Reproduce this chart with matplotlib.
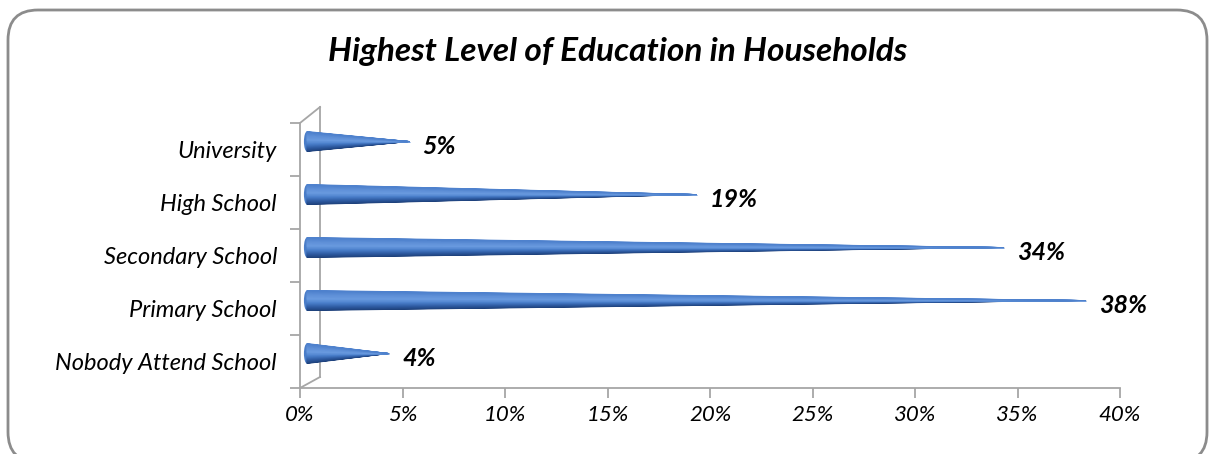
import numpy as np
import matplotlib
matplotlib.use("Agg")
import matplotlib.pyplot as plt
import matplotlib.transforms as mtransforms
from matplotlib.patches import FancyBboxPatch, Ellipse
from matplotlib.colors import LinearSegmentedColormap

categories = ["Nobody Attend School", "Primary School", "Secondary School", "High School", "University"]
values = [4, 38, 34, 19, 5]
value_labels = ["4%", "38%", "34%", "19%", "5%"]
xticks = [0, 5, 10, 15, 20, 25, 30, 35, 40]
xtick_labels = ["0%", "5%", "10%", "15%", "20%", "25%", "30%", "35%", "40%"]
title = "Highest Level of Education in Households"

plt.rcParams['font.family'] = ['Lato', 'DejaVu Sans']

W, H, DPI = 1214, 454, 100
fig = plt.figure(figsize=(W / DPI, H / DPI), dpi=DPI)
fig.patch.set_facecolor("white")

# rounded border
border = FancyBboxPatch((0.08, -0.08), 11.99, 4.52,
                        boxstyle="round,pad=0,rounding_size=0.3",
                        transform=fig.dpi_scale_trans, fill=False,
                        edgecolor="#8c8c8c", linewidth=2.0, zorder=0)
fig.patches.append(border)

ax_left, ax_right = 300 / W, 1120 / W
ax_bottom, ax_top = (H - 388) / H, (H - 123) / H
ax = fig.add_axes([ax_left, ax_bottom, ax_right - ax_left, ax_top - ax_bottom])
ax.set_xlim(0, 40)
ax.set_ylim(-0.5, len(categories) - 0.5)
for s in ax.spines.values():
    s.set_visible(False)
ax.patch.set_alpha(0)

gray = "#a6a6a6"
# front axis lines
ax.plot([0, 40], [-0.5, -0.5], color=gray, lw=1.3, clip_on=False, zorder=1)
ax.plot([0, 0], [-0.5, len(categories) - 0.5], color=gray, lw=1.3, clip_on=False, zorder=1)

# 3D floor/back wall edges
disp0 = ax.transData.transform([(0, -0.5), (0, len(categories) - 0.5)])
inv = ax.transData.inverted()
p_bot_front = disp0[0]
p_top_front = disp0[1]
pts_bot = inv.transform([p_bot_front, p_bot_front + np.array([20, 11])])
pts_top = inv.transform([p_top_front, p_top_front + np.array([20, 16])])
ax.plot(pts_bot[:, 0], pts_bot[:, 1], color=gray, lw=1.3, clip_on=False, zorder=1)
ax.plot(pts_top[:, 0], pts_top[:, 1], color=gray, lw=1.3, clip_on=False, zorder=1)
ax.plot([pts_bot[1, 0], pts_top[1, 0]], [pts_bot[1, 1], pts_top[1, 1]], color=gray, lw=1.3,
        clip_on=False, zorder=1)

# ticks
ax.set_xticks(xticks)
ax.set_xticklabels(xtick_labels, fontsize=16, fontstyle="italic")
ax.set_yticks(np.arange(-0.5, len(categories), 1.0), minor=False)
ax.set_yticklabels([])
ax.set_yticks(np.arange(len(categories)), minor=True)
ax.set_yticklabels(categories, minor=True, fontsize=17, fontstyle="italic")
ax.tick_params(axis="x", length=7, width=1.3, color=gray, pad=5)
ax.tick_params(axis="y", which="major", length=7, width=1.3, color=gray)
ax.tick_params(axis="y", which="minor", length=0, pad=16.5)

# cones
cone_tr = mtransforms.offset_copy(ax.transData, fig=fig, x=7, y=8, units='dots')
label_tr = mtransforms.offset_copy(ax.transData, fig=fig, x=20, y=3, units='dots')
cmap = LinearSegmentedColormap.from_list(
    "cone", ["#1d3f78", "#2f5ca3", "#4a7fcb", "#6a9be0", "#5f90d8", "#4d80cc"])
half = 0.19
n = 40
for i, v in enumerate(values):
    for k in range(n):
        f1, f2 = k / n, (k + 1) / n
        col = cmap((f1 + f2) / 2)
        ax.fill([0, 0, v], [i - half + 2 * half * f1, i - half + 2 * half * f2, i],
                color=col, lw=0.6, edgecolor=col, transform=cone_tr, zorder=3, clip_on=False)
    e = Ellipse((0, i), width=0.3, height=2 * half, transform=cone_tr,
                facecolor="#4a7dc8", edgecolor="none", zorder=2.9, clip_on=False)
    ax.add_patch(e)
    ax.text(v, i, value_labels[i], transform=label_tr, fontsize=18, fontweight="bold",
            fontstyle="italic", va="center", ha="left")

fig.text(0.509, (H - 51) / H, title, ha="center", va="center", fontsize=24,
         fontweight="bold", fontstyle="italic")

fig.savefig("out.png", dpi=DPI)
